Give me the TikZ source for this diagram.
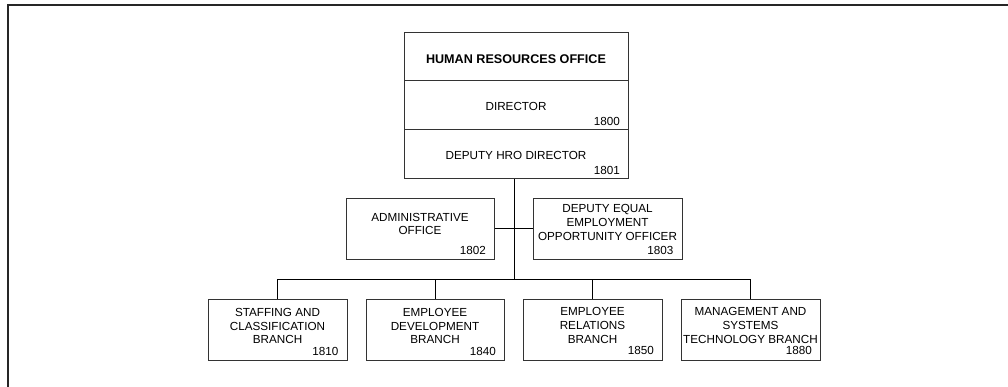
\documentclass[tikz,border=0pt]{standalone}
\usepackage{fontspec}
\setmainfont{Liberation Sans}
\begin{document}
\begin{tikzpicture}[x=1pt,y=-1pt,
  box/.style={draw=black!80, line width=1pt, inner sep=0pt},
  txt/.style={font=\fontsize{11.7}{13.8}\selectfont, align=center, inner sep=0pt},
  boldtxt/.style={font=\fontsize{12.6}{14}\selectfont\bfseries, inner sep=0pt},
  num/.style={font=\fontsize{11.7}{13.8}\selectfont, inner sep=0pt, anchor=east},
  conn/.style={draw=black, line width=1pt}]
\useasboundingbox (0,0) rectangle (1008,387);
\draw[line width=2pt, black!85] (8,387) -- (8,5) -- (1008,5);

% top stacked box
\node[box, minimum width=224pt, minimum height=48pt] (hro) at (516,57) {};
\node[box, minimum width=224pt, minimum height=49pt] (dir) at (516,105.5) {};
\node[box, minimum width=224pt, minimum height=49pt] (dep) at (516,154.5) {};
\node[boldtxt] (hrot) at (516,59.3) {HUMAN RESOURCES OFFICE};
\node[txt] (dirt) at (516,106) {DIRECTOR};
\node[num] (dirn) at (620,121.7) {1800};
\node[txt] (dept) at (516,155) {DEPUTY HRO DIRECTOR};
\node[num] (depn) at (620,170.7) {1801};

% middle boxes
\node[box, minimum width=148pt, minimum height=60pt] (adm) at (420,229) {};
\node[txt] (admt) at (420,224) {ADMINISTRATIVE\\OFFICE};
\node[num] (admn) at (486,250.7) {1802};
\node[box, minimum width=149pt, minimum height=60pt] (eeo) at (607.5,229) {};
\node[txt] (eeot) at (607.5,222.7) {DEPUTY EQUAL\\EMPLOYMENT\\OPPORTUNITY OFFICER};
\node[num] (eeon) at (673.5,250) {1803};

% bottom boxes
\node[box, minimum width=139pt, minimum height=61.4pt] (b1) at (277.5,330) {};
\node[txt] (b1t) at (277.5,326) {STAFFING AND\\CLASSIFICATION\\BRANCH};
\node[num] (b1n) at (338.7,351) {1810};
\node[box, minimum width=138pt, minimum height=61.4pt] (b2) at (435,330) {};
\node[txt] (b2t) at (435,326) {EMPLOYEE\\DEVELOPMENT\\BRANCH};
\node[num] (b2n) at (496,351) {1840};
\node[box, minimum width=139pt, minimum height=61.4pt] (b3) at (592.5,330) {};
\node[txt] (b3t) at (592.5,325.5) {EMPLOYEE\\RELATIONS\\BRANCH};
\node[num] (b3n) at (654,350.7) {1850};
\node[box, minimum width=139pt, minimum height=61.4pt] (b4) at (750.5,330) {};
\node[txt] (b4t) at (750.5,325.5) {MANAGEMENT AND\\SYSTEMS\\TECHNOLOGY BRANCH};
\node[num] (b4n) at (812,350.7) {1880};

% connectors
\coordinate (t) at (514,279.3);
\draw[conn] (dep.south -| t) -- (t);
\draw[conn] (adm.east) -- (eeo.west);
\draw[conn] (b1.north |- t) -- (b4.north |- t);
\foreach \b in {b1,b2,b3,b4} \draw[conn] (\b.north |- t) -- (\b.north);
\end{tikzpicture}
\end{document}
